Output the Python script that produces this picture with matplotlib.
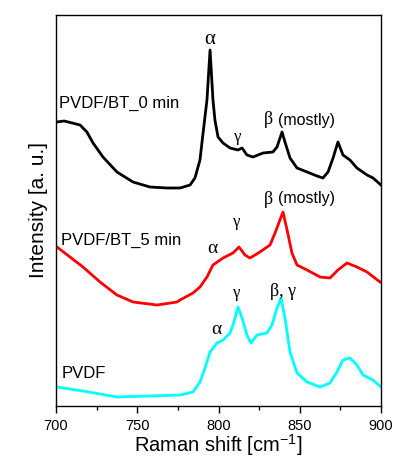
import matplotlib
matplotlib.use("Agg")
import matplotlib.pyplot as plt
from matplotlib.ticker import MultipleLocator

# Raman shift [cm-1] and intensity (arbitrary units)
x_0min = [700.5, 705, 710, 714.8, 719, 722.8, 728.9, 737.5, 747.4, 757.8, 768.3,
          776.3, 782.5, 785.5, 788.6, 790.5, 792.9, 794.8, 796.6, 797.8, 799.7,
          802.8, 807.1, 812.0, 814.5, 817.5, 821.2, 827.4, 833.5, 836.0, 839.1,
          840.9, 844.0, 848.3, 854.5, 860.6, 864.3, 867.4, 870.5, 873.5, 876.6,
          880.9, 885.2, 891.4, 895.1, 900]
y_0min = [284, 285, 283, 281, 274, 263, 249, 234, 224, 219, 218,
          218, 221, 228, 246, 273, 306, 356, 306, 286, 269,
          263, 258, 256, 258, 251, 249, 253, 254, 259, 274,
          264, 248, 238, 234, 230, 228, 234, 248, 264, 251,
          246, 238, 231, 228, 221]

x_5min = [700.6, 708.6, 716.6, 727.1, 737.5, 747.4, 762.2, 774.5, 776.3, 784.3,
          788.6, 792.9, 796.6, 802.8, 808.9, 812.6, 816.3, 819.4, 825.5, 831.7,
          834.8, 837.8, 839.7, 842.2, 845.2, 848.3, 854.5, 862.5, 868.6, 873.5,
          879.1, 885.2, 891.4, 899.4]
y_5min = [159, 149, 139, 124, 111, 104, 101, 104, 106, 113,
          119, 129, 141, 148, 153, 159, 151, 148, 154, 161,
          173, 186, 194, 176, 153, 141, 136, 129, 128, 136,
          143, 139, 134, 124]

x_pvdf = [700.6, 716.6, 737.5, 757.8, 776.3, 784.3, 788.6, 791.7, 794.8, 799.1,
          802.8, 807.1, 809.5, 812.0, 814.5, 817.5, 820.0, 823.7, 829.8, 832.9,
          836.0, 838.5, 840.9, 844.0, 848.3, 854.5, 862.5, 868.6, 872.9, 876.6,
          880.9, 885.2, 888.9, 895.1, 900]
y_pvdf = [19, 15, 9, 10, 11, 14, 24, 38, 54, 63,
          66, 73, 84, 99, 88, 71, 63, 71, 73, 81,
          98, 108, 88, 54, 33, 24, 19, 23, 34, 46,
          48, 41, 31, 26, 19]

plt.rcParams["font.family"] = ["Liberation Sans", "DejaVu Sans"]
plt.rcParams["mathtext.default"] = "regular"
GREEK = ["Liberation Serif", "DejaVu Serif"]

fig = plt.figure(figsize=(3.93, 4.61), dpi=100)
ax = fig.add_axes([56 / 393, 55 / 461, 325 / 393, 391 / 461])

ax.plot(x_0min, y_0min, color="black", lw=2)
ax.plot(x_5min, y_5min, color="red", lw=2)
ax.plot(x_pvdf, y_pvdf, color="cyan", lw=2)

ax.set_xlim(700, 900)
ax.set_ylim(0, 391)
ax.set_yticks([])
ax.xaxis.set_major_locator(MultipleLocator(50))
ax.xaxis.set_minor_locator(MultipleLocator(25))
ax.tick_params(axis="x", which="major", direction="out", length=5, width=1,
               labelsize=10.5, pad=4)
ax.tick_params(axis="x", which="minor", direction="out", length=3, width=1)
for s in ax.spines.values():
    s.set_linewidth(1)

ax.set_xlabel("Raman shift [cm$^{-1}$]", fontsize=14.5, labelpad=0)
ax.set_ylabel("Intensity [a. u.]", fontsize=15, labelpad=6)

# sample names
ax.text(701.8, 303, "PVDF/BT_0 min", fontsize=12, ha="left", va="center")
ax.text(703, 166, "PVDF/BT_5 min", fontsize=12, ha="left", va="center")
ax.text(703.7, 33, "PVDF", fontsize=12, ha="left", va="center")

# phase labels
ax.text(794.8, 366, "α", family=GREEK, fontsize=15, ha="center", va="center")
ax.text(812, 269, "γ", family=GREEK, fontsize=12, ha="center", va="center")
ax.text(830.5, 286, "β", family=GREEK, fontsize=13, ha="center", va="center")
ax.text(836.6, 286, "(mostly)", fontsize=11.5, ha="left", va="center")

ax.text(796, 158, "α", family=GREEK, fontsize=14, ha="center", va="center")
ax.text(811.4, 184, "γ", family=GREEK, fontsize=12, ha="center", va="center")
ax.text(831, 207, "β", family=GREEK, fontsize=13, ha="center", va="center")
ax.text(836.6, 207, "(mostly)", fontsize=11.5, ha="left", va="center")

ax.text(798.5, 77, "α", family=GREEK, fontsize=14, ha="center", va="center")
ax.text(811.4, 113, "γ", family=GREEK, fontsize=12, ha="center", va="center")
ax.text(839.7, 114, "β, γ", family=GREEK, fontsize=13, ha="center", va="center")

fig.savefig("out.png", dpi=100)
